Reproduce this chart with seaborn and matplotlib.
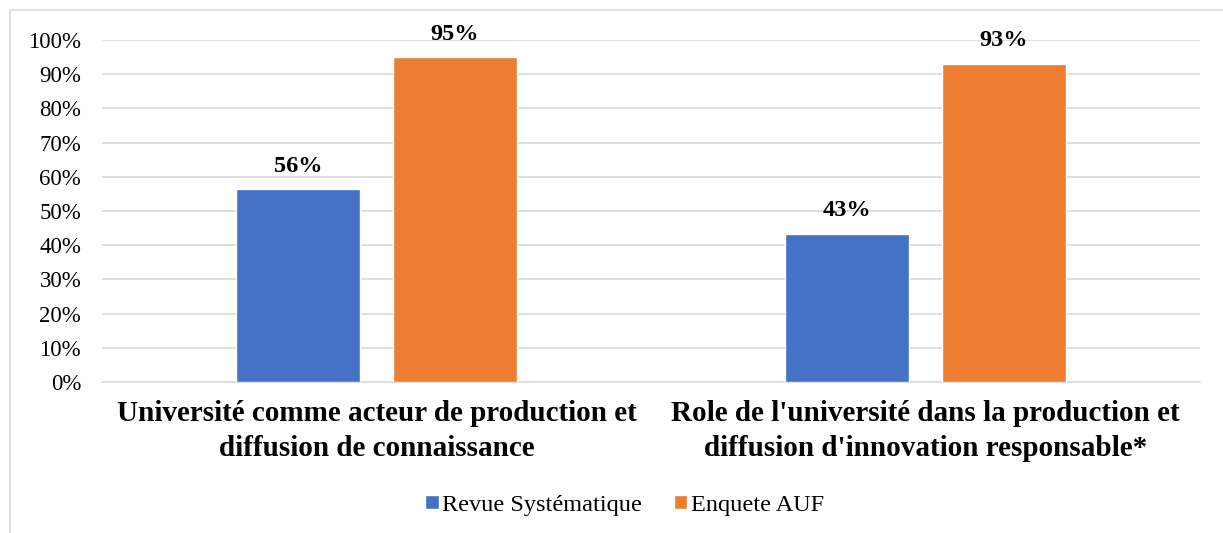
import matplotlib
matplotlib.use("Agg")
import matplotlib.pyplot as plt
import seaborn as sns
import pandas as pd
from matplotlib.patches import Rectangle
from matplotlib.ticker import MultipleLocator, FuncFormatter

categories = [
    "Université comme acteur de production et\ndiffusion de connaissance",
    "Role de l'université dans la production et\ndiffusion d'innovation responsable*",
]
series_names = ["Revue Systématique", "Enquete AUF"]
revue_values = [0.564, 0.433]
enquete_values = [0.950, 0.930]
value_labels = {"Revue Systématique": ["56%", "43%"], "Enquete AUF": ["95%", "93%"]}
colors = ["#4472C4", "#ED7D31"]

rows = []
for name, vals in zip(series_names, [revue_values, enquete_values]):
    for cat, v in zip(categories, vals):
        rows.append({"Catégorie": cat, "Série": name, "Valeur": v})
df = pd.DataFrame(rows)

sns.set_theme(style="white")
plt.rcParams["font.family"] = ["Liberation Serif", "DejaVu Serif"]
plt.rcParams["text.color"] = "black"
plt.rcParams["xtick.color"] = "black"
plt.rcParams["ytick.color"] = "black"

fig = plt.figure(figsize=(12.23, 5.33), dpi=100)
ax = fig.add_axes([102 / 1223, 1 - 382 / 533, 1098 / 1223, 342 / 533])

sns.barplot(data=df, x="Catégorie", y="Valeur", hue="Série", order=categories,
            hue_order=series_names, palette=colors, width=0.57, gap=0.205,
            saturation=1, errorbar=None, ax=ax, zorder=3, legend=True)

ax.set_ylim(0, 1.0)
ax.set_xlim(-0.5, 1.5)
ax.yaxis.set_major_locator(MultipleLocator(0.1))
ax.yaxis.set_major_formatter(FuncFormatter(lambda v, p: f"{v * 100:.0f}%"))
ax.grid(axis="y", color="#D9D9D9", linewidth=1.2, zorder=0)
ax.set_axisbelow(True)
for side in ["top", "right", "left"]:
    ax.spines[side].set_visible(False)
ax.spines["bottom"].set_color("#D9D9D9")
ax.spines["bottom"].set_linewidth(1.2)
ax.tick_params(axis="both", length=0)
ax.tick_params(axis="y", labelsize=16.5, pad=15, labelcolor="black")
ax.tick_params(axis="x", pad=13, labelcolor="black")
ax.set_xlabel("")
ax.set_ylabel("")
for lab in ax.get_xticklabels():
    lab.set_fontsize(21)
    lab.set_fontweight("bold")
    lab.set_linespacing(1.4)
    lab.set_color("black")

for container, name in zip(ax.containers, series_names):
    ax.bar_label(container, labels=value_labels[name], padding=9,
                 fontsize=17.5, fontweight="bold", color="black")

handles, labels = ax.get_legend_handles_labels()
ax.get_legend().remove()
leg = fig.legend(handles, labels, loc="center",
                 bbox_to_anchor=(0.5 + 13 / 1223, 1 - 505 / 533),
                 ncol=2, frameon=False, fontsize=17.5, handlelength=0.55,
                 handleheight=0.55, handletextpad=0.15, columnspacing=1.3)
for t in leg.get_texts():
    t.set_color("black")

fig.patches.append(Rectangle((10 / 1223, -0.1), 1.2, 1 - 10 / 533 + 0.1,
                             transform=fig.transFigure, fill=False,
                             edgecolor="#D9D9D9", linewidth=1.2))

fig.savefig("out.png", dpi=100, facecolor="white")
